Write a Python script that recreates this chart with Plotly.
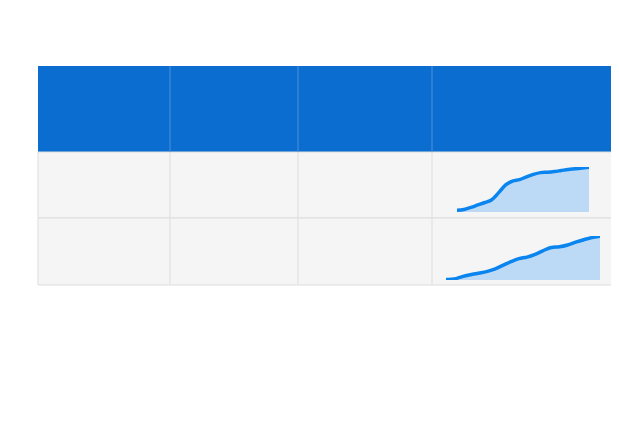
import plotly.graph_objects as go

W, H = 619, 448
title_lines = ["Prețul maxim de referință, stabilit la data de 10.01.2022",
               "aplicabil pentru data de 11.01.2022"]
headers = ["Produse petroliere<br>principale de tip<br>standard", "Prețul maxim de<br>comercializare",
           "Dinamica zilnică<br>(lei)", "Evoluție"]
products = ["Benzină 95", "Motorină"]
prices = ["21,80", "18,45"]
changes = ["+0,15", "+0,31"]
benzina = [20.55,20.57,20.63,20.70,20.77,20.85,21.05,21.27,21.38,21.42,21.50,21.57,21.62,21.63,21.65,21.68,21.71,21.73,21.75,21.77]
motorina = [17.05,17.06,17.14,17.20,17.25,17.30,17.38,17.50,17.62,17.72,17.77,17.86,17.98,18.08,18.10,18.16,18.25,18.33,18.40,18.44]
footer = ["* Prețurile maxime de comercializare cu amănuntul a produselor petroliere principale de tip",
          "standard se stabilesc de către Agenția Naționala pentru Reglementare în Egergetică în baza",
          "Metodologiei de calcul și aplicare a prețurilor la produsele petroliere și sunt calculate reieșind din",
          "următoarele:",
          "PL - valoarea medie a cotațiilor medii Platts pentru 14 zile anterioare zilei efectuării calculului;",
          "CV - rata oficială medie de schimb a monede inaționale în raport cu dolarul SUA pentru 14 zile",
          "anterioare zilei efectuării calculului;",
          "MC - marja comercială specifică; AC și TVA cota accizelor și taxa pe valoarea dăugată aplicate în",
          "conformitate cu Codul Fiscal al Republicii Moldova."]

OFF = 8
def px(x): return (x - OFF) / W
def py(y): return 1 - (y - OFF) / H

FONT = "Liberation Sans, Arial, sans-serif"
fig = go.Figure()
shapes, ann = [], []
cols = [38, 170, 298, 432, 612]
rows = [66, 152, 218, 285]
shapes.append(dict(type="rect", xref="paper", yref="paper", x0=px(38), x1=px(612), y0=py(152), y1=py(66),
                   fillcolor="#0b6dcf", line=dict(width=0), layer="below"))
for r in range(2):
    shapes.append(dict(type="rect", xref="paper", yref="paper", x0=px(38), x1=px(612), y0=py(rows[r+2]), y1=py(rows[r+1]),
                       fillcolor="#f5f5f5", line=dict(color="#dddddd", width=1), layer="below"))
for c in cols[1:-1]:
    shapes.append(dict(type="line", xref="paper", yref="paper", x0=px(c), x1=px(c), y0=py(285), y1=py(152),
                       line=dict(color="#dddddd", width=1), layer="below"))
    shapes.append(dict(type="line", xref="paper", yref="paper", x0=px(c), x1=px(c), y0=py(152), y1=py(66),
                       line=dict(color="#4d94dd", width=1), layer="below"))
for i, t in enumerate(title_lines):
    ann.append(dict(x=px(38), y=py(25 + i*23), text="<b>"+t+"</b>", showarrow=False, xanchor="left", yanchor="middle",
                    font=dict(size=18, color="#333333", family=FONT)))
for i, h in enumerate(headers):
    ann.append(dict(x=px((cols[i]+cols[i+1])/2), y=py(109), text="<b>"+h+"</b>", showarrow=False,
                    xanchor="center", yanchor="middle", font=dict(size=13, color="white", family=FONT)))
for r in range(2):
    yc = py((rows[r+1]+rows[r+2])/2)
    ann.append(dict(x=px(104), y=yc, text="<b><u>"+products[r]+"</u></b>", showarrow=False,
                    font=dict(size=15, color="#1f5fa5", family=FONT)))
    ann.append(dict(x=px(234), y=yc, text="<u>"+prices[r]+"</u>", showarrow=False,
                    font=dict(size=15, color="#333333", family=FONT)))
    ann.append(dict(x=px(365), y=yc, text="<b>"+changes[r]+"</b>", showarrow=False,
                    font=dict(size=15, color="#2fbf4f", family=FONT)))
for i, t in enumerate(footer):
    ann.append(dict(x=px(37), y=py(300 + i*16.3), text=t, showarrow=False, xanchor="left", yanchor="middle",
                    font=dict(size=12.5, color="#333333", family=FONT)))

for k, (vals, ax) in enumerate([(benzina, ""), (motorina, "2")]):
    fig.add_trace(go.Scatter(x=list(range(len(vals))), y=vals, mode="lines", fill="tozeroy",
                             fillcolor="rgba(150,200,245,0.6)",
                             line=dict(color="#0a84ee", width=3.5, shape="spline"),
                             xaxis="x"+ax, yaxis="y"+ax, hoverinfo="skip", showlegend=False))
rng1 = [min(benzina)-0.05, max(benzina)+0.01]
rng2 = [min(motorina)-0.02, max(motorina)+0.01]
axoff = dict(showgrid=False, zeroline=False, showticklabels=False, showline=False, ticks="")
fig.update_layout(
    width=W, height=H, margin=dict(l=0, r=0, t=0, b=0), paper_bgcolor="white", plot_bgcolor="rgba(0,0,0,0)",
    xaxis=dict(domain=[px(457), px(589)], range=[0, len(benzina)-1], **axoff),
    yaxis=dict(domain=[py(212), py(167)], range=rng1, **axoff),
    xaxis2=dict(domain=[px(446), px(600)], range=[0, len(motorina)-1], anchor="y2", **axoff),
    yaxis2=dict(domain=[py(280), py(236)], range=rng2, anchor="x2", **axoff),
    shapes=shapes, annotations=ann)
fig.write_html("out.html")
